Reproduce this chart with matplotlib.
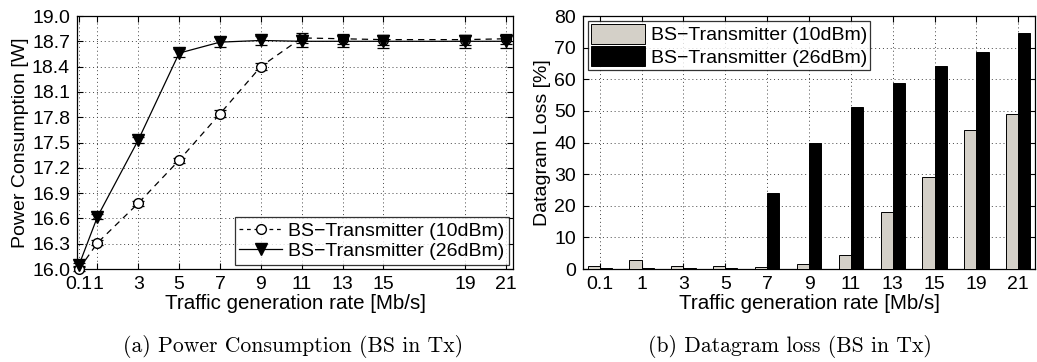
import matplotlib
matplotlib.use("Agg")
import matplotlib.pyplot as plt
from matplotlib.lines import Line2D
import numpy as np

# Traffic generation rates [Mb/s]
rates = [0.1, 1, 3, 5, 7, 9, 11, 13, 15, 19, 21]
rate_labels = ["0.1", "1", "3", "5", "7", "9", "11", "13", "15", "19", "21"]

# Power consumption [W] with error bar half-widths
power_10dbm = [16.00, 16.31, 16.78, 17.29, 17.84, 18.40, 18.74, 18.73, 18.72, 18.72, 18.73]
power_10dbm_err = [0.02, 0.03, 0.03, 0.03, 0.04, 0.04, 0.06, 0.06, 0.06, 0.06, 0.06]
power_26dbm = [16.05, 16.62, 17.53, 18.56, 18.69, 18.71, 18.70, 18.70, 18.70, 18.70, 18.70]
power_26dbm_err = [0.02, 0.03, 0.03, 0.05, 0.06, 0.05, 0.07, 0.07, 0.08, 0.08, 0.08]

# Datagram loss [%]
loss_10dbm = [1.0, 2.7, 1.0, 0.8, 0.5, 1.5, 4.4, 18.0, 29.0, 44.0, 48.9]
loss_26dbm = [0.3, 0.3, 0.2, 0.2, 24.1, 40.0, 51.1, 58.9, 64.3, 68.5, 74.5]

series_names = ["BS\u2212Transmitter (10dBm)", "BS\u2212Transmitter (26dBm)"]

plt.rcParams["font.family"] = ["Liberation Sans", "DejaVu Sans"]
plt.rcParams["font.size"] = 14

fig = plt.figure(figsize=(10.37, 3.62), dpi=100)
label_font = dict(family=["Liberation Sans", "DejaVu Sans"], size=14.8)
caption_font = dict(family=["cmr10", "DejaVu Serif"], size=15.6)

style_10 = dict(color="black", linestyle=(0, (5, 4)), linewidth=0.9, marker="o",
                markersize=7, markerfacecolor="white", markeredgecolor="black")
style_26 = dict(color="black", linestyle="-", linewidth=0.9, marker="v",
                markersize=9, markerfacecolor="black", markeredgecolor="black")


def style_axes(ax):
    ax.tick_params(direction="in", top=True, right=True, length=4, width=0.8,
                   labelsize=14, pad=5)
    ax.grid(True, linestyle=(0, (1, 3)), color="#444444", linewidth=0.7)
    for s in ax.spines.values():
        s.set_linewidth(0.9)
        s.set_color("black")


# (a) Power consumption
ax1 = fig.add_axes([0.0743, 0.2569, 0.4204, 0.6989])
ax1.errorbar(rates, power_10dbm, yerr=power_10dbm_err, capsize=4,
             elinewidth=0.9, capthick=0.9, clip_on=False, zorder=3, **style_10)
ax1.errorbar(rates, power_26dbm, yerr=power_26dbm_err, capsize=4,
             elinewidth=0.9, capthick=0.9, clip_on=False, zorder=3, **style_26)
ax1.set_xlim(0, 21.35)
ax1.set_ylim(16.0, 19.0)
ax1.set_xticks(rates)
ax1.set_xticklabels(rate_labels)
ax1.set_yticks(np.arange(16.0, 19.01, 0.3))
ax1.set_yticklabels([f"{v:.1f}" for v in np.arange(16.0, 19.01, 0.3)])
style_axes(ax1)
ax1.set_xlabel("Traffic generation rate [Mb/s]", labelpad=1, **label_font)
ax1.set_ylabel("Power Consumption [W]", labelpad=2, fontsize=14)
handles1 = [Line2D([], [], **{**style_10, "linestyle": (0, (3, 3))}),
            Line2D([], [], **style_26)]
leg1 = ax1.legend(handles1, series_names, loc="lower right", fontsize=14,
                  frameon=True, fancybox=False, edgecolor="black",
                  borderpad=0.25, labelspacing=0.15, handlelength=2.2,
                  handletextpad=0.3, borderaxespad=0.2)
leg1.get_frame().set_linewidth(0.9)

# (b) Datagram loss
ax2 = fig.add_axes([0.5622, 0.2569, 0.4359, 0.6989])
pos = np.arange(1, len(rates) + 1)
bw = 0.29
ax2.bar(pos - bw / 2, loss_10dbm, width=bw, color="#d4d0c8", edgecolor="black",
        linewidth=0.7, label=series_names[0], zorder=3)
ax2.bar(pos + bw / 2, loss_26dbm, width=bw, color="black", edgecolor="black",
        linewidth=0.7, label=series_names[1], zorder=3)
ax2.set_xlim(0.6, 11.4)
ax2.set_ylim(0, 80)
ax2.set_xticks(pos)
ax2.set_xticklabels(rate_labels)
ax2.set_yticks(np.arange(0, 81, 10))
style_axes(ax2)
ax2.set_xlabel("Traffic generation rate [Mb/s]", labelpad=1, **label_font)
ax2.set_ylabel("Datagram Loss [%]", labelpad=2, fontsize=14)
leg2 = ax2.legend(loc="upper left", fontsize=14, frameon=True, fancybox=False,
                  edgecolor="black", borderpad=0.15, labelspacing=0.1,
                  handlelength=2.8, handleheight=1.2, handletextpad=0.3,
                  borderaxespad=0.25)
leg2.get_frame().set_linewidth(0.9)

# Sub-figure captions
fig.text(0.283, 0.044, "(a) Power Consumption (BS in Tx)", ha="center",
         va="center", **caption_font)
fig.text(0.762, 0.044, "(b) Datagram loss (BS in Tx)", ha="center",
         va="center", **caption_font)

fig.savefig("out.png", dpi=100)
